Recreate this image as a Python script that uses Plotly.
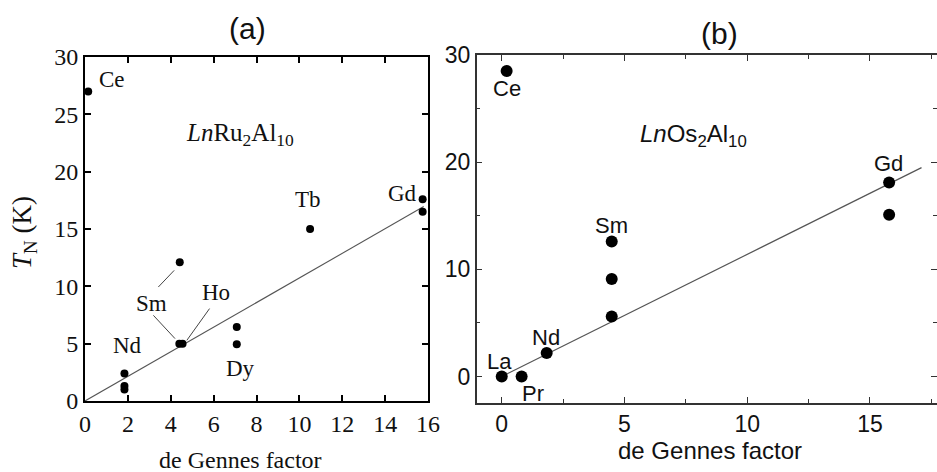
import plotly.graph_objects as go

W, H = 937, 472

# ---- (a) LnRu2Al10 ----
ru_x = [0.15, 1.84, 1.84, 1.84, 4.42, 4.40, 4.55, 7.08, 7.08, 10.5, 15.75, 15.75]
ru_y = [27.0, 2.4, 1.3, 1.0, 12.1, 5.0, 5.0, 6.45, 4.95, 15.0, 17.6, 16.5]
ru_slope = 1.073
ru_fit_x = [0.0, 15.8]

# ---- (b) LnOs2Al10 ----
os_x = [0.2, 0.0, 0.81, 1.83, 4.48, 4.48, 4.48, 15.78, 15.78]
os_y = [28.5, 0.0, 0.0, 2.2, 12.6, 9.1, 5.6, 18.1, 15.1]
os_slope = 1.14
os_fit_x = [0.0, 17.1]

ru_labels = [("Ce", 1.25, 28.0), ("Tb", 10.42, 17.6), ("Gd", 14.79, 18.1),
             ("Sm", 3.12, 8.54), ("Ho", 6.12, 9.42), ("Nd", 1.99, 4.86),
             ("Dy", 7.24, 2.82)]
os_labels = [("Ce", 0.2, 26.9), ("Gd", 15.75, 19.9), ("Sm", 4.48, 14.1),
             ("Nd", 1.8, 3.6), ("La", -0.1, 1.4), ("Pr", 1.26, -1.56)]

# leader lines joining labels to their points: (x0, y0) -> (x1, y1)
ru_leaders = [((3.42, 9.94), (4.16, 11.39)),
              ((3.19, 7.47), (4.20, 5.44)),
              ((5.81, 8.06), (4.75, 5.29))]

SERIF = "Liberation Serif"
SANS = "Liberation Sans"

fig = go.Figure()

fig.add_trace(go.Scatter(
    x=ru_fit_x, y=[ru_slope * v for v in ru_fit_x], mode="lines",
    line=dict(color="#555555", width=1.1), xaxis="x", yaxis="y",
    showlegend=False, hoverinfo="skip"))
fig.add_trace(go.Scatter(
    x=ru_x, y=ru_y, mode="markers", marker=dict(color="black", size=8),
    xaxis="x", yaxis="y", showlegend=False))

fig.add_trace(go.Scatter(
    x=os_fit_x, y=[os_slope * v for v in os_fit_x], mode="lines",
    line=dict(color="#555555", width=1.2), xaxis="x2", yaxis="y2",
    showlegend=False, hoverinfo="skip"))
fig.add_trace(go.Scatter(
    x=os_x, y=os_y, mode="markers", marker=dict(color="black", size=12),
    xaxis="x2", yaxis="y2", showlegend=False))

ann = []
for t, x, y in ru_labels:
    ann.append(dict(text=t, x=x, y=y, xref="x", yref="y", showarrow=False,
                    font=dict(family=SERIF, size=23, color="#111")))
ann.append(dict(text="<i>Ln</i>Ru<sub>2</sub>Al<sub>10</sub>", x=7.24, y=23.2,
                xref="x", yref="y", showarrow=False,
                font=dict(family=SERIF, size=25, color="#111")))
for t, x, y in os_labels:
    ann.append(dict(text=t, x=x, y=y, xref="x2", yref="y2", showarrow=False,
                    font=dict(family=SANS, size=22, color="#111")))
ann.append(dict(text="<i>Ln</i>Os<sub>2</sub>Al<sub>10</sub>", x=7.8, y=22.5,
                xref="x2", yref="y2", showarrow=False,
                font=dict(family=SANS, size=24, color="#111")))

shapes = [dict(type="line", xref="x", yref="y", x0=a[0], y0=a[1], x1=b[0], y1=b[1],
               line=dict(color="#444", width=1)) for a, b in ru_leaders]


def paper(px, py):
    return px / W, 1 - py / H


for text, (px, py), fam, size, angle in [
        ("(a)", (247, 29), SANS, 30, 0),
        ("(b)", (719, 33), SANS, 30, 0),
        ("de Gennes factor", (240, 460), SERIF, 24, 0),
        ("de Gennes factor", (710, 450), SANS, 24, 0),
        ("<i>T</i><sub>N</sub> (K)", (24, 233), SERIF, 27, -90)]:
    x, y = paper(px, py)
    ann.append(dict(text=text, x=x, y=y, xref="paper", yref="paper",
                    showarrow=False, textangle=angle, xanchor="center",
                    yanchor="middle", font=dict(family=fam, size=size, color="#111")))

ax_a = dict(showline=True, linecolor="black", linewidth=2, mirror="ticks",
            ticks="inside", ticklen=6, tickwidth=2, tickcolor="black",
            showgrid=False, zeroline=False, automargin=False,
            tickfont=dict(family=SERIF, size=24, color="#111"))
ax_b = dict(showline=True, linecolor="#333", linewidth=1.5, mirror="ticks",
            ticks="inside", ticklen=6, tickwidth=1.3, tickcolor="#333",
            showgrid=False, zeroline=False, automargin=False,
            tickfont=dict(family=SANS, size=23, color="#111"))

fig.update_layout(
    width=W, height=H, autosize=False,
    margin=dict(l=0, r=0, t=0, b=0, autoexpand=False),
    paper_bgcolor="white", plot_bgcolor="white",
    xaxis=dict(**ax_a, domain=[85 / W, 428 / W], range=[0, 16], dtick=2,
               anchor="y"),
    yaxis=dict(**ax_a, domain=[1 - 401 / H, 1 - 57 / H], range=[0, 30], dtick=5,
               anchor="x"),
    xaxis2=dict(**ax_b, domain=[476.7 / W, 1.0], range=[-1.02, 17.73],
                tick0=0, dtick=5, anchor="y2",
                minor=dict(dtick=2.5, tick0=0, ticks="inside", ticklen=4,
                           tickcolor="#333", tickwidth=1.2)),
    yaxis2=dict(**ax_b, domain=[1 - 402.7 / H, 1 - 55 / H], range=[-2.44, 30],
                tick0=0, dtick=10, anchor="x2",
                minor=dict(dtick=5, tick0=0, ticks="inside", ticklen=4,
                           tickcolor="#333", tickwidth=1.2)),
    annotations=ann,
    shapes=shapes,
)

fig.write_html("out.html")
